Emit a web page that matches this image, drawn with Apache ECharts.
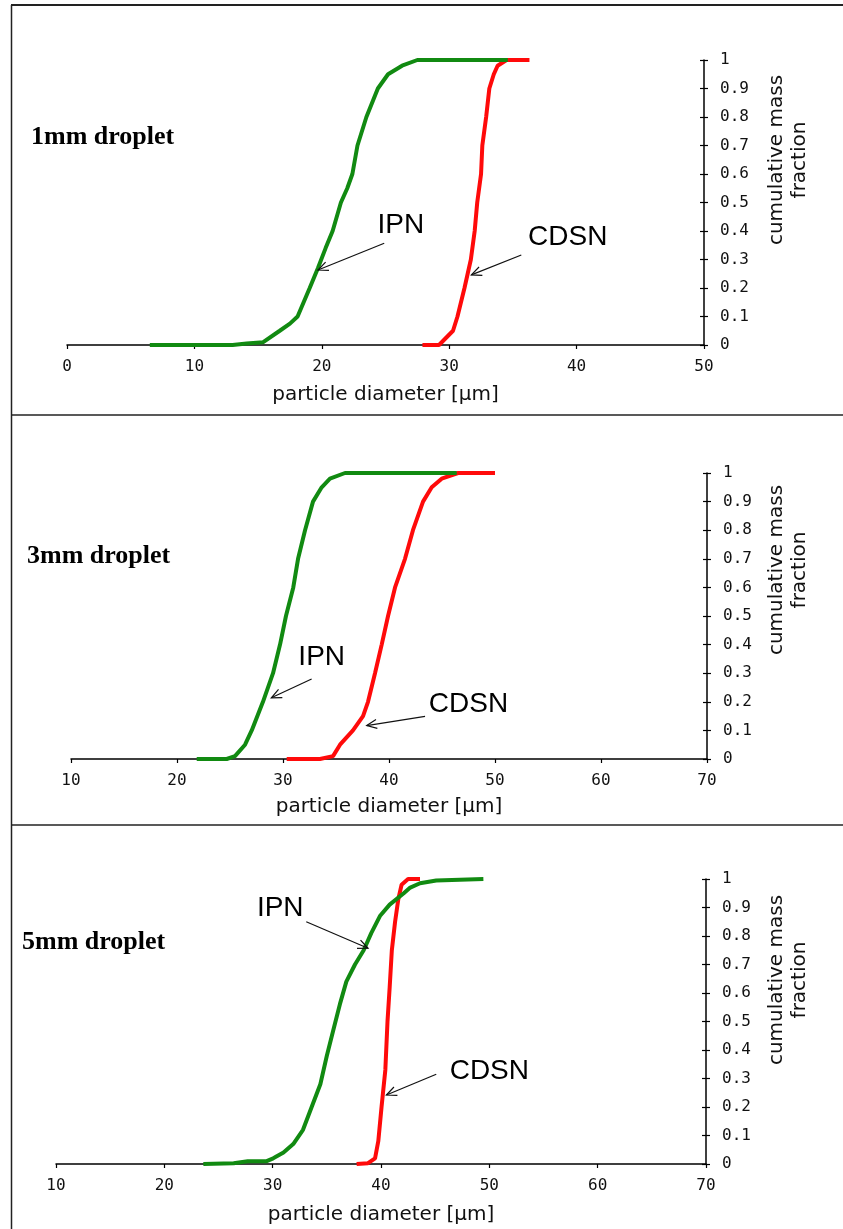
<!DOCTYPE html>
<html>
<head>
<meta charset="utf-8">
<script src="https://cdn.jsdelivr.net/npm/echarts@6/dist/echarts.min.js"></script>
<style>
html,body{margin:0;padding:0;background:#fff;}
#chart{width:843px;height:1229px;}
</style>
</head>
<body>
<div id="chart"></div>
<script>
// ---- Data ----
// Panel 1: 1mm droplet
const ipn1X  = [6.5, 13.0, 14.1, 15.4, 16.7, 17.5, 18.1, 19.05, 19.7, 20.3, 20.85, 21.5, 22.0, 22.4, 22.8, 23.5, 24.4, 25.2, 26.3, 27.5, 34.6];
const ipn1Y  = [0, 0, 0.005, 0.01, 0.05, 0.075, 0.1, 0.2, 0.27, 0.34, 0.4, 0.5, 0.55, 0.6, 0.7, 0.8, 0.9, 0.95, 0.98, 1, 1];
const cdsn1X = [27.9, 29.2, 30.3, 30.65, 31.2, 31.7, 32.0, 32.2, 32.5, 32.6, 32.9, 33.15, 33.5, 33.8, 34.5, 36.3];
const cdsn1Y = [0, 0, 0.05, 0.1, 0.2, 0.3, 0.4, 0.5, 0.6, 0.7, 0.8, 0.9, 0.95, 0.98, 1, 1];
// Panel 2: 3mm droplet
const ipn2X  = [21.86, 24.69, 25.47, 26.42, 27.05, 28.11, 29.06, 29.72, 30.28, 30.97, 31.42, 32.08, 32.83, 33.65, 34.43, 35.85, 46.39];
const ipn2Y  = [0, 0, 0.01, 0.05, 0.1, 0.2, 0.3, 0.4, 0.5, 0.6, 0.7, 0.8, 0.9, 0.95, 0.98, 1, 1];
const cdsn2X = [30.35, 33.49, 34.72, 35.38, 36.6, 37.55, 38.02, 38.68, 39.31, 39.91, 40.57, 41.51, 42.26, 43.21, 44.03, 44.97, 46.51, 50.0];
const cdsn2Y = [0, 0, 0.01, 0.05, 0.1, 0.15, 0.2, 0.3, 0.4, 0.5, 0.6, 0.7, 0.8, 0.9, 0.95, 0.98, 1, 1];
// Panel 3: 5mm droplet
const ipn3X  = [23.6, 26.4, 27.7, 29.45, 30.05, 31.0, 31.9, 32.8, 33.6, 34.4, 35.0, 35.6, 36.2, 36.8, 37.6, 38.4, 39.1, 39.9, 40.8, 42.1, 42.7, 43.6, 45.1, 49.45];
const ipn3Y  = [0, 0.003, 0.01, 0.01, 0.02, 0.04, 0.07, 0.12, 0.2, 0.28, 0.38, 0.47, 0.56, 0.64, 0.7, 0.75, 0.81, 0.87, 0.91, 0.95, 0.97, 0.985, 0.995, 1];
const cdsn3X = [37.75, 38.8, 39.45, 39.75, 40.05, 40.4, 40.6, 40.8, 41.0, 41.3, 41.6, 41.9, 42.5, 43.6];
const cdsn3Y = [0, 0.003, 0.02, 0.08, 0.2, 0.33, 0.5, 0.62, 0.75, 0.85, 0.93, 0.98, 1, 1];

// Axis ranges / labels
const panelTitles = ['1mm droplet', '3mm droplet', '5mm droplet'];
const xMins = [0, 10, 10];
const xMaxs = [50, 70, 70];
const xInterval = 10;
const xName = 'particle diameter [µm]';
const yName = 'cumulative mass\nfraction';
const seriesNames = ['IPN', 'CDSN'];

// Annotations (data coords): label position, arrow start -> arrow end
const annotLabels = [['IPN', 'CDSN'], ['IPN', 'CDSN'], ['IPN', 'CDSN']];
const annotTextX  = [[26.2, 39.3], [33.65, 47.5], [30.7, 50.0]];
const annotTextY  = [[0.42, 0.378], [0.356, 0.193], [0.898, 0.324]];
const arrowX1 = [[24.9, 35.66], [32.7, 43.4], [33.1, 45.1]];
const arrowY1 = [[0.357, 0.316], [0.28, 0.149], [0.85, 0.315]];
const arrowX2 = [[19.7, 31.74], [28.9, 37.9], [38.8, 40.5]];
const arrowY2 = [[0.263, 0.246], [0.214, 0.117], [0.757, 0.242]];

// ---- Build ----
const zip = (xs, ys) => xs.map((x, i) => [x, ys[i]]);
const ipnData = [zip(ipn1X, ipn1Y), zip(ipn2X, ipn2Y), zip(ipn3X, ipn3Y)];
const cdsnData = [zip(cdsn1X, cdsn1Y), zip(cdsn2X, cdsn2Y), zip(cdsn3X, cdsn3Y)];

const grids = [
  {left: 67, right: 139, top: 60, height: 285},
  {left: 71, right: 136, top: 473, height: 286},
  {left: 56, right: 137, top: 879, height: 285}
];
const nameGaps = [40, 38, 41];
const titleY = [137, 556, 942];
const titleX = [31, 27, 22];
const yTitleY = [160, 570, 980];

const GREEN = '#118a11';
const RED = '#ff0a0a';

const xAxes = [], yAxes = [], series = [], graphics = [];
for (let i = 0; i < 3; i++) {
  xAxes.push({
    gridIndex: i, type: 'value', min: xMins[i], max: xMaxs[i], interval: xInterval,
    position: 'bottom',
    axisLine: {onZero: false, lineStyle: {color: '#000', width: 1.5}},
    axisTick: {length: 4, lineStyle: {color: '#000', width: 1.2}},
    splitLine: {show: false},
    axisLabel: {color: '#111', fontFamily: 'DejaVu Sans Mono', fontSize: 16, margin: 14},
    name: xName, nameLocation: 'middle', nameGap: nameGaps[i],
    nameTextStyle: {fontFamily: 'DejaVu Sans', fontSize: 20, color: '#111'}
  });
  yAxes.push({
    gridIndex: i, type: 'value', min: 0, max: 1, interval: 0.1, position: 'right',
    axisLine: {show: true, onZero: false, lineStyle: {color: '#000', width: 1.5}},
    axisTick: {show: true, length: 4, lineStyle: {color: '#000', width: 1.2}},
    splitLine: {show: false},
    axisLabel: {color: '#111', fontFamily: 'DejaVu Sans Mono', fontSize: 16, margin: 16}
  });
  yAxes.push({
    gridIndex: i, type: 'value', min: 0, max: 1, interval: 0.1, position: 'right',
    axisLine: {show: false, onZero: false},
    axisTick: {show: true, inside: true, length: 4, lineStyle: {color: '#000', width: 1.2}},
    splitLine: {show: false},
    axisLabel: {show: false}
  });

  series.push({
    name: seriesNames[1], type: 'line', xAxisIndex: i, yAxisIndex: 2 * i,
    data: cdsnData[i], showSymbol: false, symbol: 'none', animation: false,
    lineStyle: {color: RED, width: 4}, z: 3
  });
  series.push({
    name: seriesNames[0], type: 'line', xAxisIndex: i, yAxisIndex: 2 * i,
    data: ipnData[i], showSymbol: false, symbol: 'none', animation: false,
    lineStyle: {color: GREEN, width: 4}, z: 4
  });

  const panel = i;
  const arrowData = arrowX1[i].map((x, k) => [x, arrowY1[i][k], arrowX2[i][k], arrowY2[i][k], annotTextX[i][k], annotTextY[i][k]]);
  series.push({
    type: 'custom', xAxisIndex: i, yAxisIndex: 2 * i, animation: false, z: 6,
    clip: false,
    encode: {x: [0, 2, 4], y: [1, 3, 5]},
    data: arrowData,
    renderItem: function (params, api) {
      const p1 = api.coord([api.value(0), api.value(1)]);
      const p2 = api.coord([api.value(2), api.value(3)]);
      const pt = api.coord([api.value(4), api.value(5)]);
      const ang = Math.atan2(p2[1] - p1[1], p2[0] - p1[0]);
      const hl = 11, sp = 0.42;
      const h1 = [p2[0] - hl * Math.cos(ang - sp), p2[1] - hl * Math.sin(ang - sp)];
      const h2 = [p2[0] - hl * Math.cos(ang + sp), p2[1] - hl * Math.sin(ang + sp)];
      return {
        type: 'group',
        children: [
          {type: 'line', shape: {x1: p1[0], y1: p1[1], x2: p2[0], y2: p2[1]}, style: {stroke: '#111', lineWidth: 1.2}},
          {type: 'polyline', shape: {points: [h1, p2, h2]}, style: {stroke: '#111', lineWidth: 1.2, fill: null}},
          {type: 'text', x: pt[0], y: pt[1], style: {text: annotLabels[panel][params.dataIndex], font: '28px "Liberation Sans"', fill: '#000', align: 'center', verticalAlign: 'middle'}}
        ]
      };
    }
  });

  graphics.push({
    type: 'text', x: titleX[i], y: titleY[i],
    style: {text: panelTitles[i], font: 'bold 26px "Liberation Serif"', fill: '#000', align: 'left', verticalAlign: 'middle'}
  });
  graphics.push({
    type: 'text', x: 788, y: yTitleY[i], rotation: Math.PI / 2,
    style: {text: yName, font: '20px "DejaVu Sans"', fill: '#111', align: 'center', verticalAlign: 'middle', lineHeight: 23}
  });
}

// frame lines
graphics.push({type: 'line', shape: {x1: 11, y1: 5, x2: 843, y2: 5}, style: {stroke: '#222', lineWidth: 2}});
graphics.push({type: 'line', shape: {x1: 11.5, y1: 5, x2: 11.5, y2: 1229}, style: {stroke: '#222', lineWidth: 1.5}});
graphics.push({type: 'line', shape: {x1: 11, y1: 415, x2: 843, y2: 415}, style: {stroke: '#222', lineWidth: 1.5}});
graphics.push({type: 'line', shape: {x1: 11, y1: 825, x2: 843, y2: 825}, style: {stroke: '#222', lineWidth: 1.5}});

const chart = echarts.init(document.getElementById('chart'), null, {renderer: 'canvas'});
chart.setOption({
  backgroundColor: '#fff',
  animation: false,
  grid: grids,
  xAxis: xAxes,
  yAxis: yAxes,
  series: series,
  graphic: graphics
});
</script>
</body>
</html>
